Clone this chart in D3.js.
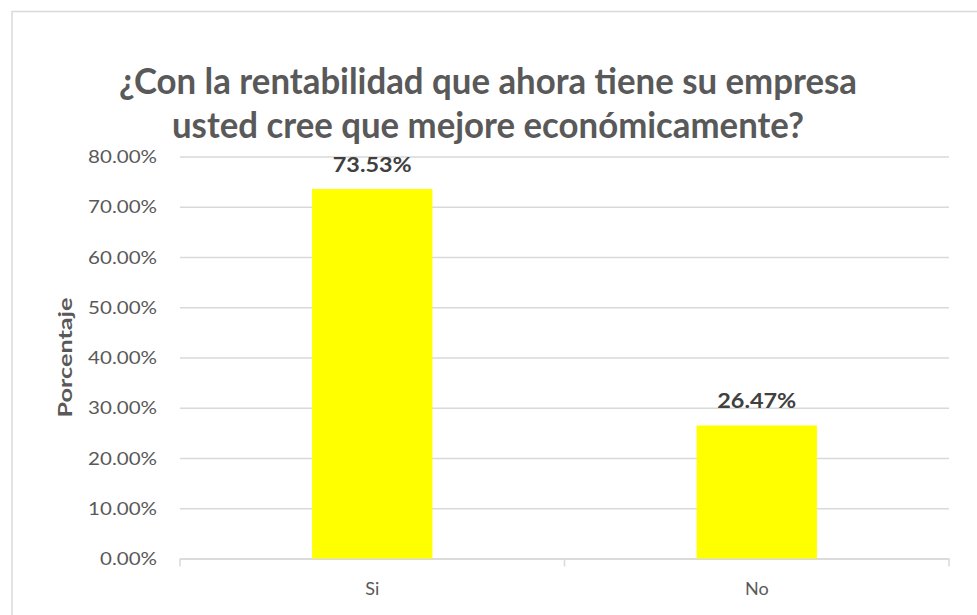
<!DOCTYPE html>
<html>
<head>
<meta charset="utf-8">
<script src="https://cdn.jsdelivr.net/npm/d3@7"></script>
<style>
  body { margin: 0; background: #ffffff; }
  svg { display: block; }
  text { font-family: "Lato", "Open Sans", sans-serif; }
</style>
</head>
<body>
<svg id="chart" width="977" height="615"></svg>
<script>
// Survey answers and their shares (percent)
const categories = ["Si", "No"];
const values = [73.53, 26.47];
const yTicks = [0, 10, 20, 30, 40, 50, 60, 70, 80];
const titleLines = [
  "¿Con la rentabilidad que ahora tiene su empresa",
  "usted cree que mejore económicamente?"
];
const yAxisTitle = "Porcentaje";

const W = 977, H = 615;
const plot = { left: 180, right: 949, top: 156.5, bottom: 558.5 };
const gridColor = "#d9d9d9";
const textColor = "#595959";

const svg = d3.select("#chart");

// chart frame
svg.append("rect")
  .attr("x", 12).attr("y", 11.5)
  .attr("width", W).attr("height", H)
  .attr("fill", "#ffffff")
  .attr("stroke", gridColor).attr("stroke-width", 1.5);

const x = d3.scaleBand()
  .domain(categories)
  .range([plot.left, plot.right])
  .paddingInner(0.687)
  .paddingOuter(0.3435);

const y = d3.scaleLinear()
  .domain([0, 80])
  .range([plot.bottom, plot.top]);

// stretch a text element horizontally to a given width
function fitWidth(sel, width) {
  sel.attr("textLength", width).attr("lengthAdjust", "spacingAndGlyphs");
}

// title
const title = svg.append("g");
const titleBaselines = [94, 138];
const titleWidths = [738, 632];
titleLines.forEach((t, i) => {
  const el = title.append("text")
    .attr("x", 488).attr("y", titleBaselines[i])
    .attr("text-anchor", "middle")
    .attr("font-size", 36).attr("font-weight", 700)
    .attr("fill", textColor)
    .text(t);
  fitWidth(el, titleWidths[i]);
});

// value axis with gridlines
const yAxis = svg.append("g")
  .attr("transform", `translate(${plot.left},0)`)
  .call(d3.axisLeft(y)
    .tickValues(yTicks)
    .tickSize(-(plot.right - plot.left))
    .tickPadding(23)
    .tickFormat(d => d.toFixed(2) + "%"));
yAxis.select(".domain").remove();
yAxis.selectAll(".tick line")
  .attr("stroke", gridColor).attr("stroke-width", 1.3);
yAxis.selectAll(".tick text")
  .attr("fill", textColor)
  .attr("font-size", 18)
  .attr("dy", "0.34em")
  .each(function () {
    const el = d3.select(this);
    const w = this.getComputedTextLength();
    fitWidth(el, w * 1.14);
  });

// category axis
const xAxis = svg.append("g")
  .attr("transform", `translate(0,${plot.bottom})`)
  .call(d3.axisBottom(x).tickSize(0).tickPadding(24));
xAxis.select(".domain")
  .attr("stroke", gridColor).attr("stroke-width", 1.5);
xAxis.selectAll(".tick text")
  .attr("fill", textColor)
  .attr("font-size", 18);

// tick marks between categories
const boundaries = d3.range(categories.length + 1)
  .map(i => plot.left + i * x.step());
xAxis.selectAll(".cat-sep")
  .data(boundaries)
  .join("line")
  .attr("class", "cat-sep")
  .attr("x1", d => d).attr("x2", d => d)
  .attr("y1", 0).attr("y2", 8)
  .attr("stroke", gridColor).attr("stroke-width", 1.5);

// bars
const data = categories.map((c, i) => ({ cat: c, value: values[i] }));
svg.append("g")
  .selectAll("rect")
  .data(data)
  .join("rect")
  .attr("x", d => x(d.cat))
  .attr("y", d => y(d.value))
  .attr("width", x.bandwidth())
  .attr("height", d => y(0) - y(d.value))
  .attr("fill", "#ffff00");

// value labels
svg.append("g")
  .selectAll("text")
  .data(data)
  .join("text")
  .attr("x", d => x(d.cat) + x.bandwidth() / 2)
  .attr("y", d => y(d.value) - 17)
  .attr("text-anchor", "middle")
  .attr("font-size", 21).attr("font-weight", 700)
  .attr("fill", "#404040")
  .text(d => d.value.toFixed(2) + "%")
  .each(function () {
    fitWidth(d3.select(this), 79);
  });

// axis title
const yt = svg.append("text")
  .attr("transform", `translate(72,${(plot.top + plot.bottom) / 2}) rotate(-90)`)
  .attr("text-anchor", "middle")
  .attr("font-size", 19).attr("font-weight", 700)
  .attr("fill", textColor)
  .text(yAxisTitle);
fitWidth(yt, 120);
</script>
</body>
</html>
